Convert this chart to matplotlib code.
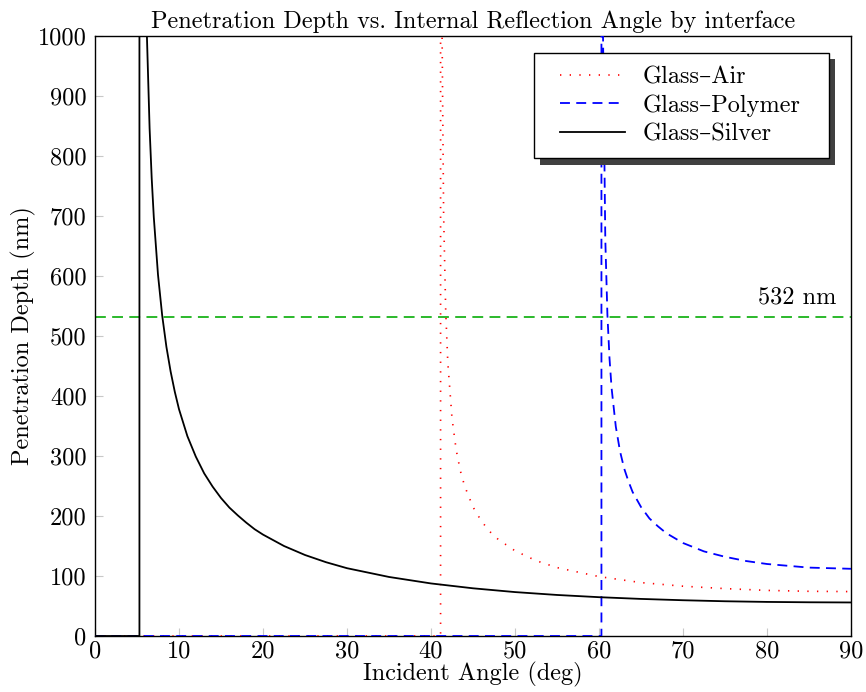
import matplotlib
matplotlib.use("Agg")
import matplotlib.pyplot as plt
import matplotlib.patheffects as pe
from matplotlib.legend_handler import HandlerLine2D

# Penetration depth (nm) vs incident angle (deg)
air_angle = [0, 41.14, 41.14, 41.32, 41.5, 41.75, 42, 42.5, 43, 43.5, 44, 45, 46,
             47, 48, 50, 52.5, 55, 60, 65, 70, 75, 80, 85, 90]
air_depth = [0, 0, 5000, 1000, 705, 542, 456, 363, 310, 275, 250, 215, 191.5,
             174, 161, 142, 125.6, 114, 99, 89, 83, 79, 76, 74.5, 74]

polymer_angle = [0, 60.29, 60.29, 60.48, 60.75, 61, 61.25, 61.5, 62, 62.5,
                 63, 63.5, 64, 65, 66, 67, 68, 70, 72.5, 75, 77.5, 80, 85, 90]
polymer_depth = [0, 0, 5000, 1000, 661, 536, 463, 413, 349, 308,
                 279, 258, 240, 215, 196, 183, 171.5, 155, 141, 132, 125, 120, 114, 112]

silver_angle = [0, 5.29, 5.29, 6.18, 6.5, 6.75, 7, 7.5, 8, 8.5, 9, 9.5, 10, 11, 12,
                13, 14, 15, 16, 17, 18, 19, 20, 22.5, 25, 27.5, 30, 35, 40, 45,
                50, 55, 60, 65, 70, 75, 80, 85, 90]
silver_depth = [0, 0, 5000, 1000, 846, 763, 698, 602, 534, 482, 441, 407, 378, 333, 299,
                271, 249, 230, 214, 201, 189, 178, 169, 150, 135, 123, 113, 98.4, 87.6, 79.5,
                73.2, 68.4, 64.7, 61.8, 59.6, 57.9, 56.8, 56.2, 55.9]

wavelength = 532
x_ticks = [0, 10, 20, 30, 40, 50, 60, 70, 80, 90]
y_ticks = [0, 100, 200, 300, 400, 500, 600, 700, 800, 900, 1000]

FS = 17.5

plt.rcParams.update({
    "font.family": ["cmr10", "DejaVu Serif"],
    "font.size": FS,
    "axes.unicode_minus": False,
})

fig = plt.figure(figsize=(8.66, 6.92), dpi=100)
ax = fig.add_axes([95 / 866, 1 - 636 / 692, 756 / 866, 600 / 692])

ax.plot(air_angle, air_depth, color="red", lw=1.2, zorder=3,
        linestyle=(0, (0.8, 5.0)), label="Glass\u2013Air")
ax.plot(polymer_angle, polymer_depth, color="blue", lw=1.3, zorder=3,
        linestyle=(0, (5.5, 3.5)), label="Glass\u2013Polymer")
ax.plot(silver_angle, silver_depth, color="black", lw=1.3, zorder=3,
        label="Glass\u2013Silver")

ax.axhline(wavelength, color="#1ab31a", lw=1.3, linestyle=(0, (6, 3.5)))
ax.text(88.3, 555, "532 nm", ha="right", va="baseline", fontsize=FS)

ax.set_xlim(0, 90)
ax.set_ylim(0, 1000)
ax.set_xticks(x_ticks)
ax.set_yticks(y_ticks)
ax.tick_params(direction="in", length=6, width=0.8, color="#c8c8c8",
               top=False, right=False, labelsize=FS)
ax.tick_params(axis="x", pad=3)
ax.tick_params(axis="y", pad=6)
for s in ax.spines.values():
    s.set_linewidth(1.0)
    s.set_color("black")

ax.set_title("Penetration Depth vs. Internal Reflection Angle by interface",
             fontsize=FS, pad=6)
ax.set_xlabel("Incident Angle (deg)", fontsize=FS, labelpad=0)
ax.set_ylabel("Penetration Depth (nm)", fontsize=FS, labelpad=1)

# legend box spans x 534..829 px, top at 53 px in the reference
leg = ax.legend(loc="upper right", bbox_to_anchor=(0.5807, 0, 0.3902, 0.972),
                mode="expand", borderaxespad=0, fancybox=False, framealpha=1,
                edgecolor="black", fontsize=FS, handlelength=3.2,
                handletextpad=0.7, labelspacing=0.25, borderpad=0.55,
                handler_map={plt.Line2D: HandlerLine2D(xpad=0.5)})
frame = leg.get_frame()
frame.set_linewidth(1.0)
frame.set_path_effects([
    pe.SimplePatchShadow(offset=(4.5, -4.5), shadow_rgbFace="#404040", alpha=1),
    pe.Normal(),
])

fig.savefig("out.png", dpi=100, facecolor="white")
